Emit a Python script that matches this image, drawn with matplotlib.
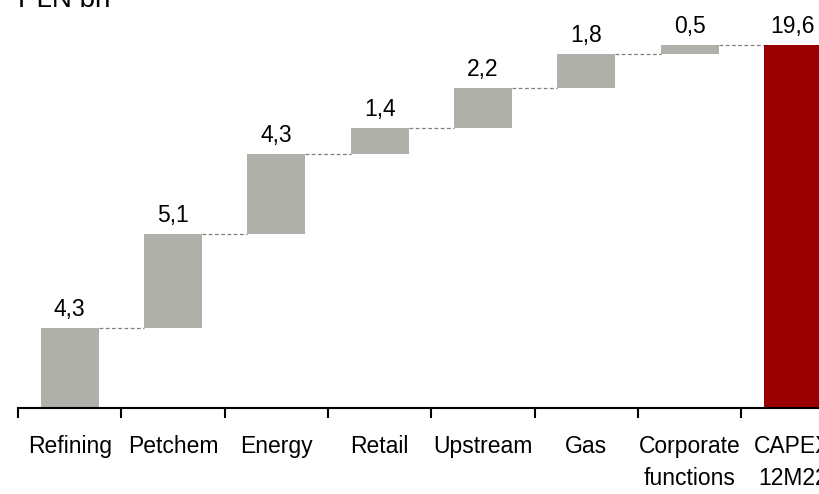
import matplotlib
matplotlib.use("Agg")
import matplotlib.pyplot as plt

plt.rcParams['font.family'] = ['Liberation Sans', 'DejaVu Sans']

categories = ["Refining", "Petchem", "Energy", "Retail", "Upstream", "Gas",
              "Corporate\nfunctions", "CAPEX\n12M22"]
segment_values = [4.3, 5.1, 4.3, 1.4, 2.2, 1.8, 0.5]
total_value = 19.6
value_labels = ["4,3", "5,1", "4,3", "1,4", "2,2", "1,8", "0,5", "19,6"]

GREY = "#b0b0aa"
RED = "#9b0000"
BAR_W = 0.56

fig = plt.figure(figsize=(8.2, 4.94), dpi=100)
# axes run slightly past the right edge, so the last column is clipped
ax = fig.add_axes([18 / 820, 86 / 494, 826.6 / 820, 407.4 / 494])

bottoms = []
running = 0.0
for v in segment_values:
    bottoms.append(running)
    running += v

xs = list(range(len(segment_values)))
ax.bar(xs, segment_values, bottom=bottoms, width=BAR_W, color=GREY, zorder=2)
ax.bar(len(segment_values), total_value, width=BAR_W, color=RED, zorder=2)

# dashed connectors between consecutive columns
tops = [b + v for b, v in zip(bottoms, segment_values)]
for i, t in enumerate(tops):
    ax.plot([i + BAR_W / 2, i + 1 - BAR_W / 2], [t, t], color="#7f7f7f",
            lw=0.9, ls=(0, (3, 2)), zorder=1)

all_tops = tops + [total_value]
for i, (t, lab) in enumerate(zip(all_tops, value_labels)):
    ax.annotate(lab, (i, t), xytext=(0, 5), textcoords="offset points",
                ha="center", va="bottom", fontsize=16.5)

ax.set_xlim(-0.5, len(categories) - 0.5)
ax.set_ylim(0, 22)
ax.set_yticks([])
for s in ["top", "right", "left"]:
    ax.spines[s].set_visible(False)
ax.spines["bottom"].set_linewidth(1.5)

ax.set_xticks([i - 0.5 for i in range(len(categories))])
ax.set_xticklabels([])
ax.tick_params(axis="x", direction="out", length=7, width=1.5)
for i, c in enumerate(categories):
    ax.text(i, -1.45, c, ha="center", va="top", fontsize=16.5,
            linespacing=1.5)

fig.text(18 / 820, 1 - 7 / 494, "PLN bn", ha="left", va="baseline", fontsize=20)

fig.savefig("out.png", dpi=100)
